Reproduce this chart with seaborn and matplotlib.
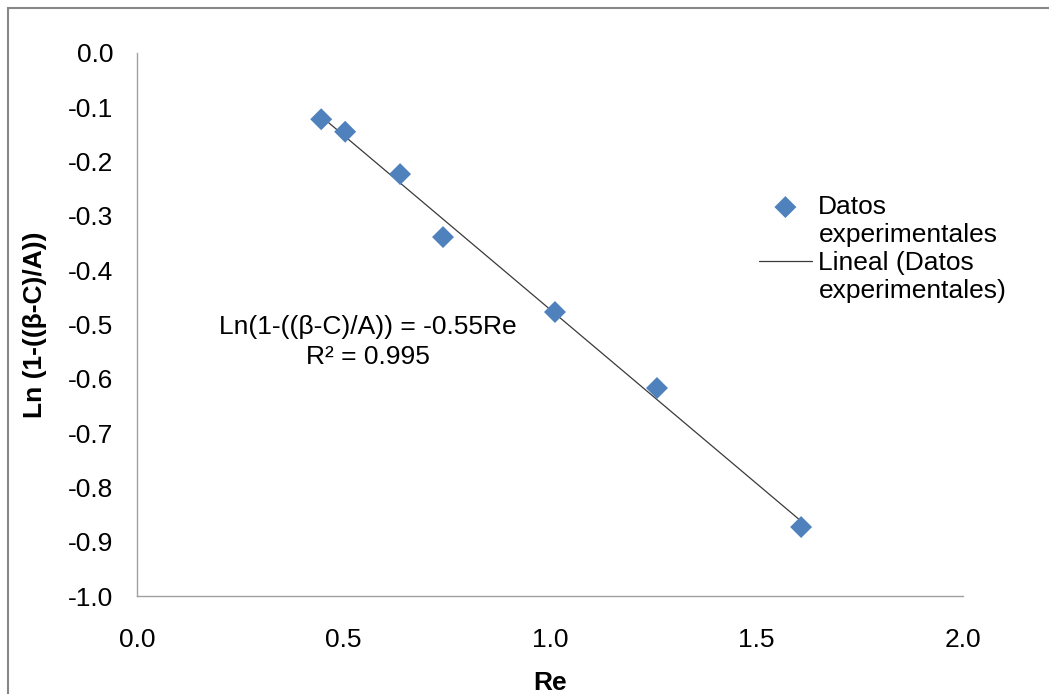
import matplotlib
matplotlib.use("Agg")
import matplotlib.pyplot as plt
import seaborn as sns
import pandas as pd
from matplotlib.patches import Rectangle
from matplotlib.lines import Line2D

# Data
re_values = [0.446, 0.504, 0.637, 0.741, 1.012, 1.259, 1.608]
ln_values = [-0.122, -0.145, -0.223, -0.339, -0.477, -0.617, -0.873]
x_ticks = [0.0, 0.5, 1.0, 1.5, 2.0]
y_ticks = [0.0, -0.1, -0.2, -0.3, -0.4, -0.5, -0.6, -0.7, -0.8, -0.9, -1.0]
series_label = ["Datos", "experimentales"]
trend_label = ["Lineal (Datos", "experimentales)"]
equation_text = "Ln(1-((β-C)/A)) = -0.55Re\nR² = 0.995"
x_label = "Re"
y_label = "Ln (1-((β-C)/A))"

df = pd.DataFrame({"Re": re_values, "Ln": ln_values})

sns.set_theme(style="white")
plt.rcParams["font.family"] = ["Liberation Sans", "DejaVu Sans"]
plt.rcParams["text.color"] = "black"
plt.rcParams["axes.labelcolor"] = "black"

W, H = 1049, 694
fig = plt.figure(figsize=(W / 100, H / 100), dpi=100)
ax = fig.add_axes([137 / W, 1 - 596 / H, (963 - 137) / W, (596 - 53) / H])

FS = 19

sns.scatterplot(data=df, x="Re", y="Ln", ax=ax, marker="D", s=125,
                color="#4F81BD", edgecolor="none", label="\n".join(series_label), zorder=3)
sns.regplot(data=df, x="Re", y="Ln", ax=ax, scatter=False, ci=None,
            label="\n".join(trend_label),
            line_kws=dict(color="#3a3a3a", linewidth=0.9, zorder=2))

ax.set_xlim(0, 2.0)
ax.set_ylim(-1.0, 0.0)
ax.set_xticks(x_ticks)
ax.set_yticks(y_ticks)
ax.set_xticklabels([f"{v:.1f}" for v in x_ticks])
ax.set_yticklabels([f"{v:.1f}" for v in y_ticks])
ax.tick_params(axis="both", length=0, labelsize=FS, colors="black")
ax.tick_params(axis="x", pad=23)
ax.tick_params(axis="y", pad=17)

for side in ["top", "right"]:
    ax.spines[side].set_visible(False)
for side in ["left", "bottom"]:
    ax.spines[side].set_color("#A0A0A0")
    ax.spines[side].set_linewidth(1.0)

ax.set_xlabel(x_label, fontsize=FS, fontweight="bold", labelpad=14)
ax.set_ylabel(y_label, fontsize=FS, fontweight="bold", labelpad=15)

ax.text((368 - 137) / 826, (596 - 342) / 543, equation_text, transform=ax.transAxes,
        ha="center", va="center", fontsize=FS, linespacing=1.3)

# Legend: Excel places each symbol beside the first line of its wrapped entry
handles, labels = ax.get_legend_handles_labels()
blank = Line2D([], [], linestyle="none", marker=None)
leg_handles = [handles[0], blank, handles[1], blank]
leg_labels = [series_label[0], series_label[1], trend_label[0], trend_label[1]]
leg = ax.legend(leg_handles, leg_labels, loc="upper left",
                bbox_to_anchor=(759 / W, 1 - 195 / H), bbox_transform=fig.transFigure,
                frameon=False, fontsize=FS, handlelength=2.0, handletextpad=0.25,
                labelspacing=0.15, borderaxespad=0, borderpad=0)

# Chart-area border (left and top visible in the reference)
fig.patches.append(Rectangle((8 / W, -0.2), 1.5, 1.2 - 8 / H, transform=fig.transFigure,
                             fill=False, edgecolor="#878787", linewidth=1.5))

fig.savefig("out.png", dpi=100)
